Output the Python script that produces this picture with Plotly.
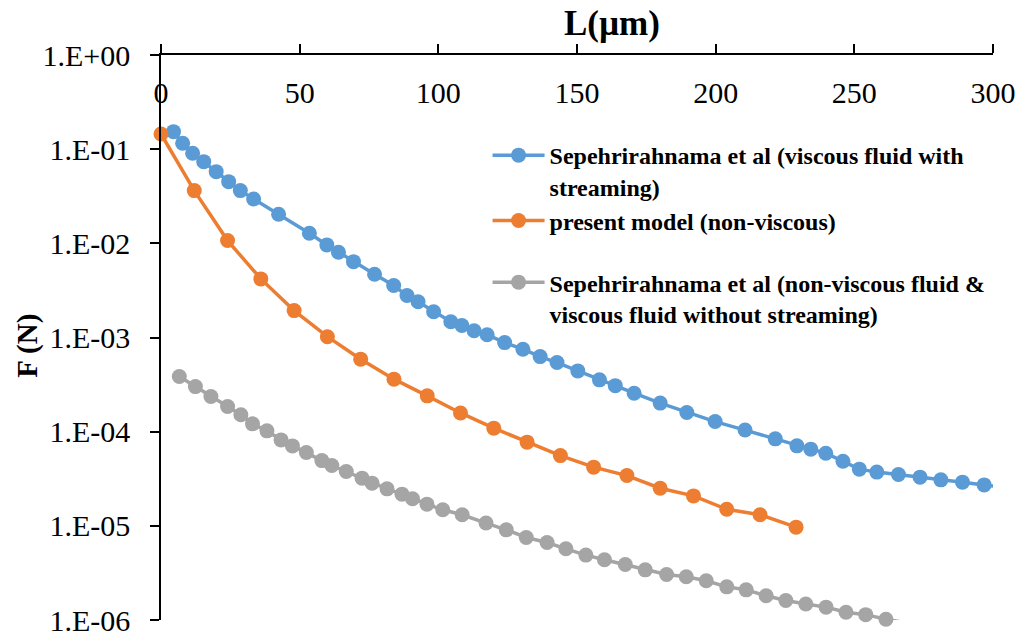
import plotly.graph_objects as go

# ---- data ----
blue_x = [4.5, 7.8, 11.4, 15.4, 19.9, 24.4, 28.6, 33.4, 42.4, 53.5, 59.8, 64.0, 69.4, 77.0, 83.9,
          88.7, 92.7, 98.3, 104.5, 108.5, 112.9, 117.6, 123.9, 130.5, 136.7, 142.8, 150.3, 158.1,
          163.8, 170.6, 180.0, 189.6, 199.8, 210.6, 221.5, 229.3, 234.3, 239.7, 245.9, 251.8,
          258.1, 265.9, 273.7, 281.2, 289.0, 296.8, 304.0]
blue_y = [0.1535, 0.1155, 0.0904, 0.0737, 0.0577, 0.0452, 0.0363, 0.0296, 0.0204, 0.0128,
          0.00962, 0.00804, 0.00639, 0.0047, 0.00356, 0.00279, 0.0024, 0.00188, 0.00147, 0.00134,
          0.00118, 0.00107, 0.000883, 0.000751, 0.000627, 0.000542, 0.000442, 0.000355, 0.000308,
          0.000256, 0.000201, 0.00016, 0.000128, 0.000104, 8.39e-5, 7.07e-5, 6.52e-5, 5.91e-5,
          4.86e-5, 4.0e-5, 3.72e-5, 3.51e-5, 3.29e-5, 3.08e-5, 2.91e-5, 2.72e-5, 2.57e-5]

orange_x = [0, 12, 24, 36, 48, 60, 72, 84, 96, 108, 120, 132, 144, 156, 168, 180, 192, 204, 216, 229]
orange_y = [0.145, 0.0363, 0.0107, 0.00419, 0.00193, 0.00102, 0.000589, 0.000361, 0.00024,
            0.000158, 0.000109, 7.74e-5, 5.57e-5, 4.2e-5, 3.42e-5, 2.51e-5, 2.08e-5, 1.5e-5,
            1.31e-5, 9.68e-6]

gray_x = [6.6, 12.4, 18.0, 24.0, 28.8, 33.0, 38.2, 43.3, 47.4, 52.4, 58.0, 61.6, 66.8, 72.5, 76.1,
          81.5, 86.9, 90.7, 95.9, 101.6, 108.6, 117.2, 124.5, 131.7, 139.2, 146.0, 153.2, 159.9,
          167.4, 174.6, 182.3, 189.4, 196.6, 204.0, 211.0, 218.2, 225.3, 232.5, 239.8, 247.0,
          254.1, 261.4, 270.0]
gray_y = [3.85e-4, 3.01e-4, 2.36e-4, 1.85e-4, 1.51e-4, 1.21e-4, 1.02e-4, 8.18e-5, 7.06e-5, 6.0e-5,
          4.93e-5, 4.37e-5, 3.77e-5, 3.21e-5, 2.84e-5, 2.47e-5, 2.17e-5, 1.94e-5, 1.70e-5, 1.48e-5,
          1.31e-5, 1.07e-5, 9.07e-6, 7.52e-6, 6.65e-6, 5.70e-6, 4.89e-6, 4.36e-6, 3.88e-6, 3.41e-6,
          3.04e-6, 2.88e-6, 2.61e-6, 2.25e-6, 2.09e-6, 1.81e-6, 1.61e-6, 1.48e-6, 1.37e-6, 1.21e-6,
          1.14e-6, 1.02e-6, 9.2e-7]

names = ["<b>Sepehrirahnama et al (viscous fluid with<br>streaming)</b>",
         "<b>present model (non-viscous)</b>",
         "<b>Sepehrirahnama et al (non-viscous fluid &amp;<br>viscous fluid without streaming)</b>"]
colors = ["#5B9BD5", "#ED7D31", "#A5A5A5"]

x_ticks = [0, 50, 100, 150, 200, 250, 300]
y_ticks = [1e-6, 1e-5, 1e-4, 1e-3, 1e-2, 1e-1, 1]
y_ticktext = ["1.E-06", "1.E-05", "1.E-04", "1.E-03", "1.E-02", "1.E-01", "1.E+00"]

FONT = "Liberation Serif, Times New Roman, serif"
XMAX, YMIN = 300, 1e-6

fig = go.Figure()
for xs, ys, name, col, lg in [(blue_x, blue_y, names[0], colors[0], "legend"),
                              (orange_x, orange_y, names[1], colors[1], "legend"),
                              (gray_x, gray_y, names[2], colors[2], "legend2")]:
    inside = [i for i in range(len(xs)) if xs[i] <= XMAX and ys[i] >= YMIN]
    last = inside[-1]
    fig.add_trace(go.Scatter(
        x=[xs[i] for i in inside], y=[ys[i] for i in inside], name=name, legend=lg,
        mode="lines+markers", line=dict(color=col, width=3.5),
        marker=dict(color=col, size=15), cliponaxis=False))
    if last < len(xs) - 1:
        fig.add_trace(go.Scatter(
            x=xs[last:], y=ys[last:], mode="lines", showlegend=False,
            line=dict(color=col, width=3.5), hoverinfo="skip"))

legend_style = dict(xanchor="left", yanchor="top",
                    font=dict(size=24, family=FONT, color="black"),
                    bgcolor="rgba(0,0,0,0)", valign="top", itemwidth=52)

fig.update_layout(
    width=1023, height=637,
    margin=dict(l=161, r=30, t=55, b=17, pad=0, autoexpand=False),
    paper_bgcolor="white", plot_bgcolor="white",
    font=dict(family=FONT, color="black"),
    title=dict(text="<b>L(µm)</b>", font=dict(size=35, family=FONT, color="black"),
               xref="paper", x=0.542, xanchor="center",
               yref="container", y=1 - 23 / 637, yanchor="middle"),
    showlegend=True,
    legend=dict(x=0.3925, y=0.8619, **legend_style),
    legend2=dict(x=0.3925, y=0.6371, **legend_style),
    annotations=[dict(text="<b>F (N)</b>", textangle=-90, showarrow=False,
                      xref="paper", yref="paper", x=-0.16, y=0.485,
                      xanchor="center", yanchor="middle",
                      font=dict(size=29, family=FONT, color="black"))],
)

fig.update_xaxes(range=[0, XMAX], side="top", tickvals=x_ticks, automargin=False,
                 ticks="outside", ticklen=9, tickwidth=1.5, tickcolor="black",
                 showline=True, linecolor="black", linewidth=1.5,
                 showgrid=False, zeroline=False,
                 ticklabelposition="inside", ticklabeloverflow="allow",
                 ticklabelstandoff=30,
                 tickfont=dict(size=30, family=FONT, color="black"))
fig.update_yaxes(type="log", range=[-6, 0], tickvals=y_ticks, ticktext=y_ticktext,
                 automargin=False,
                 ticks="outside", ticklen=9, tickwidth=1.5, tickcolor="black",
                 showline=True, linecolor="black", linewidth=1.5,
                 showgrid=False, zeroline=False, ticklabelstandoff=14,
                 tickfont=dict(size=30, family=FONT, color="black"))

fig.write_html("out.html")
